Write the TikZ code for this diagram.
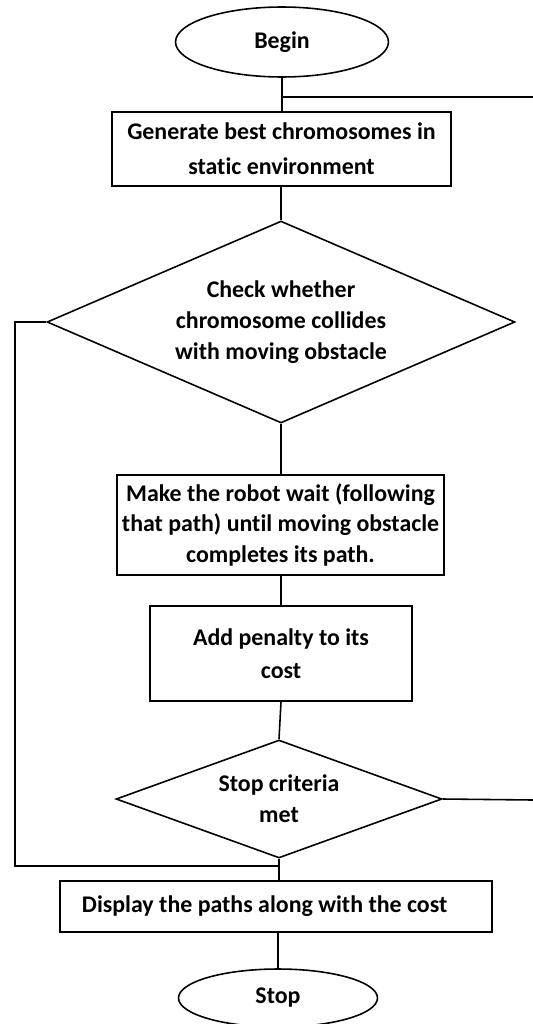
\documentclass[tikz,border=0pt]{standalone}
\usepackage{fontspec}
\setmainfont[Ligatures=NoCommon]{Carlito}
\usepackage{tikz}
\usetikzlibrary{shapes.geometric}

\begin{document}
\begin{tikzpicture}[x=0.02cm, y=-0.02cm, line width=0.9pt,
    every node/.style={font=\fontsize{13.6}{17.5}\selectfont\bfseries, align=center, inner sep=0pt},
    terminal/.style={draw, ellipse},
    process/.style={draw, rectangle},
    decision/.style={draw, diamond}]
    \useasboundingbox (0,0) rectangle (533,1024);
    \node[terminal, minimum width=4.26cm, minimum height=1.4cm] (begin) at (282,42) {Begin};
    \node[process, minimum width=6.78cm, minimum height=1.48cm] (gen) at (281.5,149)
        {Generate best chromosomes in\\[2.5pt] static environment};
    \node[decision, aspect=2.32, minimum width=9.36cm, minimum height=4.04cm] (chk) at (281,322)
        {Check whether\\ chromosome collides\\ with moving obstacle};
    \node[process, minimum width=6.54cm, minimum height=2cm] (wait) at (280.5,525)
        {Make the robot wait (following\\ that path) until moving obstacle\\ completes its path.};
    \node[process, minimum width=5.24cm, minimum height=1.9cm] (pen) at (281,653.5)
        {Add penalty to its\\[1.5pt] cost};
    \node[decision, aspect=2.76, minimum width=6.52cm, minimum height=2.36cm] (crit) at (279,799)
        {Stop criteria\\ met};
    \node[process, minimum width=8.64cm, minimum height=1.02cm] (disp) at (276,906.5)
        {Display the paths along with the cost\hspace{13pt}};
    \node[terminal, minimum width=3.98cm, minimum height=1.16cm] (stop) at (278,998) {Stop};
    \coordinate (rtop) at (533,97);
    \coordinate (rbot) at (533,800);
    \coordinate (lft) at (15,866);
    \coordinate (jbot) at (279,866);
    \draw (begin.south) -- (begin.south |- gen.north);
    \draw (begin.south |- rtop) -- (rtop);
    \draw (gen.south -| chk.north) -- (chk.north);
    \draw (chk.south) -- (chk.south |- wait.north);
    \draw (chk.south |- wait.south) -- (pen.north);
    \draw (pen.south) -- (crit.north);
    \draw (crit.east) -- (rbot);
    \draw (chk.west) -| (lft) -- (jbot);
    \draw (crit.south) -- (crit.south |- disp.north);
    \draw (disp.south -| stop.north) -- (stop.north);
\end{tikzpicture}
\end{document}
